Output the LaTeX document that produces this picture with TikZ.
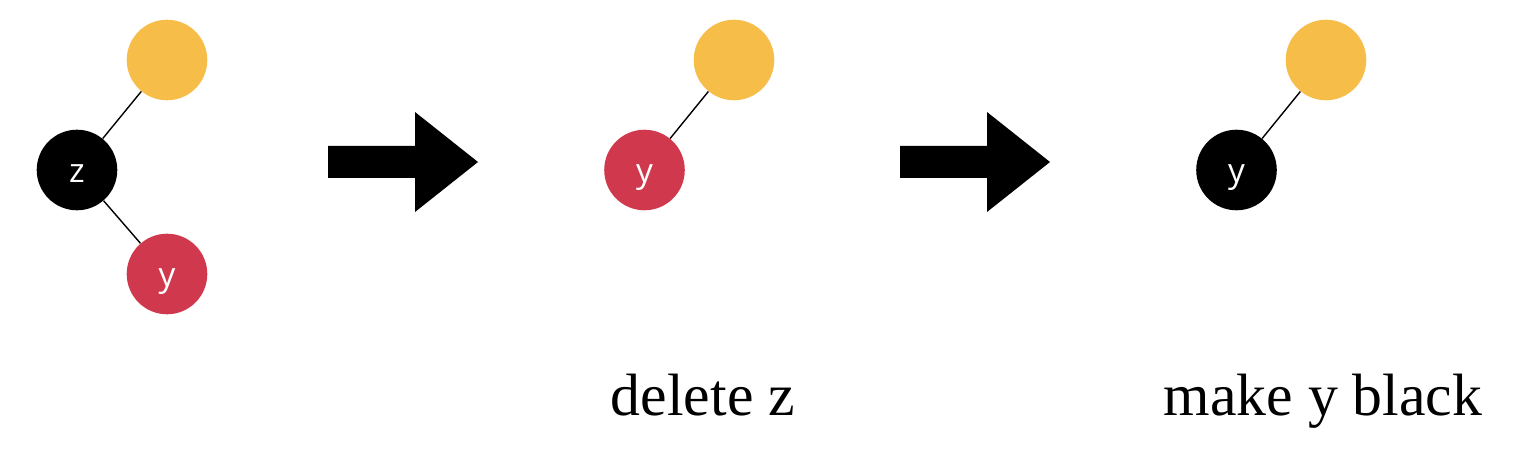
\documentclass[tikz,border=0pt]{standalone}
\usepackage{fontspec}
\setmainfont{Liberation Serif}
\newfontfamily\lblfont{Open Sans}
\definecolor{nyellow}{RGB}{246,190,73}
\definecolor{nred}{RGB}{208,57,77}
\begin{document}
\begin{tikzpicture}[x=0.02cm,y=-0.02cm,
  vertex/.style={circle,minimum size=1.612cm,inner sep=0pt,draw=none,font=\lblfont\fontsize{19}{20}\selectfont,text=white,text height=14.5pt,text depth=0pt},
  yel/.style={vertex,fill=nyellow},
  blk/.style={vertex,fill=black},
  rd/.style={vertex,fill=nred},
  edge/.style={line width=0.8pt},
  bigarrow/.style={fill=black},
  caption/.style={anchor=base,font=\fontsize{34}{37}\selectfont}]
\useasboundingbox (0,0) rectangle (1522,466);
% tree 1
\node[yel] (a1) at (167,60) {};
\node[blk] (z1) at (77,170) {z};
\node[rd] (y1) at (167,274) {y};
\draw[edge] (a1) -- (z1);
\draw[edge] (z1) -- (y1);
% arrow 1
\fill[bigarrow] (328,146) -- (415,146) -- (415,112) -- (478,162) -- (415,212) -- (415,178) -- (328,178) -- cycle;
% tree 2
\node[yel] (a2) at (734,60) {};
\node[rd] (y2) at (644.5,170) {y};
\draw[edge] (a2) -- (y2);
% arrow 2
\fill[bigarrow] (900,146) -- (987,146) -- (987,112) -- (1050,162) -- (987,212) -- (987,178) -- (900,178) -- cycle;
% tree 3
\node[yel] (a3) at (1326,60) {};
\node[blk] (y3) at (1236.5,170) {y};
\draw[edge] (a3) -- (y3);
% captions
\node[caption] (c2) at (703,415) {delete z};
\node[caption] (c3) at (1323,415) {make y black};
\end{tikzpicture}
\end{document}
